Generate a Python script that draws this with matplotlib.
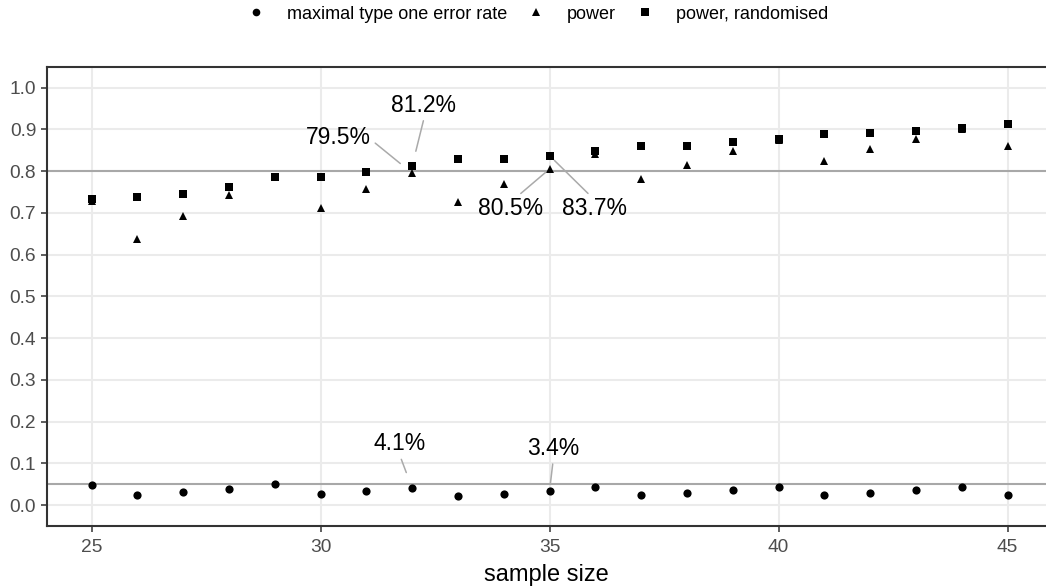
import matplotlib
matplotlib.use("Agg")
import matplotlib.pyplot as plt
from matplotlib.lines import Line2D

plt.rcParams['font.family'] = ['Liberation Sans', 'DejaVu Sans']

sample_size = list(range(25, 46))
type_one_error = [0.048, 0.024, 0.032, 0.039, 0.050, 0.026, 0.034, 0.041, 0.022, 0.026, 0.034,
                  0.044, 0.024, 0.029, 0.036, 0.044, 0.024, 0.029, 0.036, 0.044, 0.024]
power = [0.728, 0.637, 0.693, 0.742, 0.787, 0.711, 0.757, 0.795, 0.727, 0.770, 0.805,
         0.841, 0.781, 0.814, 0.847, 0.874, 0.825, 0.853, 0.877, 0.901, 0.859]
power_rand = [0.732, 0.739, 0.746, 0.763, 0.786, 0.787, 0.797, 0.812, 0.828, 0.828, 0.837,
              0.849, 0.861, 0.861, 0.869, 0.878, 0.889, 0.891, 0.895, 0.904, 0.913]
ref_lines = [0.8, 0.05]
y_ticks = [0.0, 0.1, 0.2, 0.3, 0.4, 0.5, 0.6, 0.7, 0.8, 0.9, 1.0]
x_ticks = [25, 30, 35, 40, 45]

# labels: (series, sample size, text x, text y, relpos, shrinkB)
labels = [
    ("power", 32, 30.40, 0.880, (1.0, 0.4), 11),
    ("power_rand", 32, 32.24, 0.958, (0.52, 0.0), 11),
    ("power", 35, 34.15, 0.710, (0.59, 1.0), 3.8),
    ("power_rand", 35, 35.98, 0.710, (0.46, 1.0), 4.9),
    ("error", 32, 31.73, 0.147, (0.5, 0.0), 11.9),
    ("error", 35, 35.08, 0.136, (0.5, 0.0), 5.5),
]
series = {"power": power, "power_rand": power_rand, "error": type_one_error}

fig = plt.figure(figsize=(10.46, 5.88), dpi=100)
ax = fig.add_axes([0.0446, 0.1054, 1.0 - 0.0446, 0.8866 - 0.1054])

ax.set_xlim(24.02, 45.84)
ax.set_ylim(-0.05, 1.05)
ax.set_xticks(x_ticks)
ax.set_yticks(y_ticks)
ax.set_yticklabels([f"{v:.1f}" for v in y_ticks])
ax.grid(True, color='#ebebeb', lw=1.5)
ax.set_axisbelow(True)

for r in ref_lines:
    ax.axhline(r, color='#a8a8a8', lw=1.5, zorder=1.5)

ax.plot(sample_size, type_one_error, 'o', color='black', ms=5.9, mew=0, zorder=3)
ax.plot(sample_size, power, '^', color='black', ms=6.4, mew=0, zorder=3)
ax.plot(sample_size, power_rand, 's', color='black', ms=6.3, mew=0, zorder=3)

for key, n, tx, ty, rp, sb in labels:
    v = series[key][sample_size.index(n)]
    ax.annotate(f"{v*100:.1f}%", xy=(n, v), xytext=(tx, ty), ha='center', va='center',
                fontsize=16.5, color='black', zorder=4,
                arrowprops=dict(arrowstyle='-', color='#aaaaaa', lw=1.1, relpos=rp,
                                shrinkA=1, shrinkB=sb))

for s in ['left', 'top', 'bottom']:
    ax.spines[s].set_color('#333333')
    ax.spines[s].set_linewidth(1.5)
ax.spines['right'].set_visible(False)
ax.tick_params(axis='both', colors='#333333', length=4.5, width=1.1, labelsize=13.8,
               labelcolor='#4d4d4d', pad=3)
ax.tick_params(axis='x', pad=4.5)
ax.set_xlabel("sample size", fontsize=17, color='black', labelpad=6)

handles = [
    Line2D([], [], marker='o', ls='', color='black', ms=5.5, mew=0),
    Line2D([], [], marker='^', ls='', color='black', ms=6.0, mew=0),
    Line2D([], [], marker='s', ls='', color='black', ms=5.8, mew=0),
]
fig.legend(handles, ["maximal type one error rate", "power", "power, randomised"],
           loc='center', bbox_to_anchor=(0.514, 0.976), ncol=3, frameon=False,
           fontsize=13, handlelength=1.0, handletextpad=1.2, columnspacing=1.1,
           borderaxespad=0, borderpad=0)

fig.savefig("out.png", dpi=100)
